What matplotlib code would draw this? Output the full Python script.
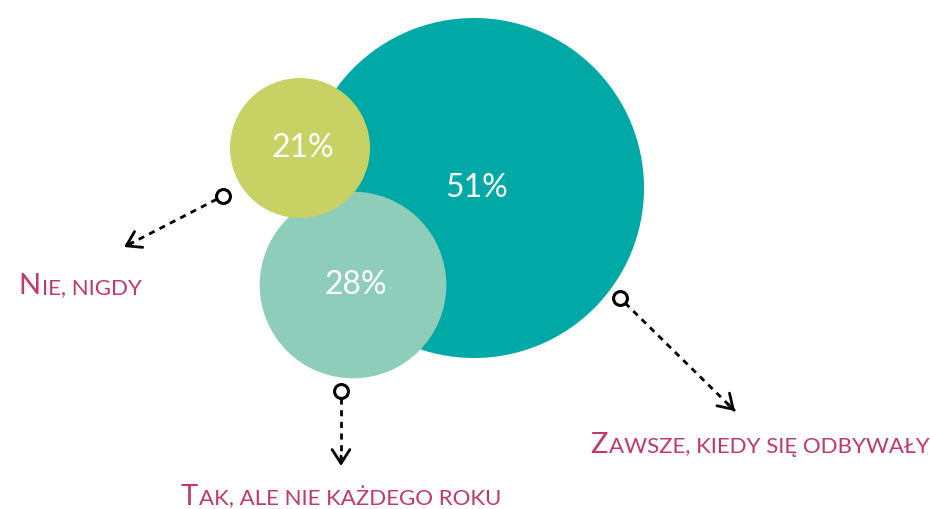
import matplotlib
matplotlib.use("Agg")
import matplotlib.pyplot as plt
from matplotlib.patches import Circle
from matplotlib.offsetbox import TextArea, HPacker, AnnotationBbox
import numpy as np

# data
labels = ["Zawsze, kiedy się odbywały", "Tak, ale nie każdego roku", "Nie, nigdy"]
values = [51, 28, 21]

# layout (pixels) and styles
centres = [(474, 188), (353, 285), (300, 148)]
colours = ["#00A9A6", "#8ECDBA", "#C8D164"]
scale = 10 / 3.0  # px of radius per percent
arrow_start = [(620, 298), (341, 391), (223, 196)]
arrow_end = [(735, 411), (341, 466), (124, 247)]
label_pos = [(760, 445), (341, 497), (80, 286)]
label_col = "#C2386C"
font = "Lato"

fig = plt.figure(figsize=(9.3, 5.09), dpi=100)
ax = fig.add_axes([0, 0, 1, 1])
ax.set_xlim(0, 930)
ax.set_ylim(509, 0)
ax.axis("off")

for v, c, col in zip(values, centres, colours):
    ax.add_patch(Circle(c, v * scale, color=col, lw=0))
    ax.text(c[0] + 3, c[1], f"{v}%", color="white", fontsize=23, family=font,
            ha="center", va="center")


def small_caps(text):
    # first letter big, rest as small capitals
    big = TextArea(text[0].upper(), textprops=dict(color=label_col, fontsize=21, family=font))
    rest = TextArea(text[1:].upper(), textprops=dict(color=label_col, fontsize=16, family=font))
    return HPacker(children=[big, rest], align="baseline", pad=0, sep=1)


for lab, s, e, p in zip(labels, arrow_start, arrow_end, label_pos):
    s = np.array(s, float)
    e = np.array(e, float)
    d = (e - s) / np.hypot(*(e - s))
    ax.plot([s[0] + d[0] * 7, e[0]], [s[1] + d[1] * 7, e[1]], color="black", lw=2,
            ls=(0, (2.2, 2.0)), zorder=3)
    ax.plot(s[0], s[1], marker="o", ms=10, mfc="white", mec="black", mew=2.2, zorder=4)
    ax.annotate("", xy=e, xytext=e - d * 10,
                arrowprops=dict(arrowstyle="->,head_length=0.5,head_width=0.32",
                                color="black", lw=2, mutation_scale=20,
                                shrinkA=0, shrinkB=0), zorder=4)
    ab = AnnotationBbox(small_caps(lab), p, frameon=False, box_alignment=(0.5, 0.5), pad=0)
    ax.add_artist(ab)

fig.savefig("out.png", dpi=100)
